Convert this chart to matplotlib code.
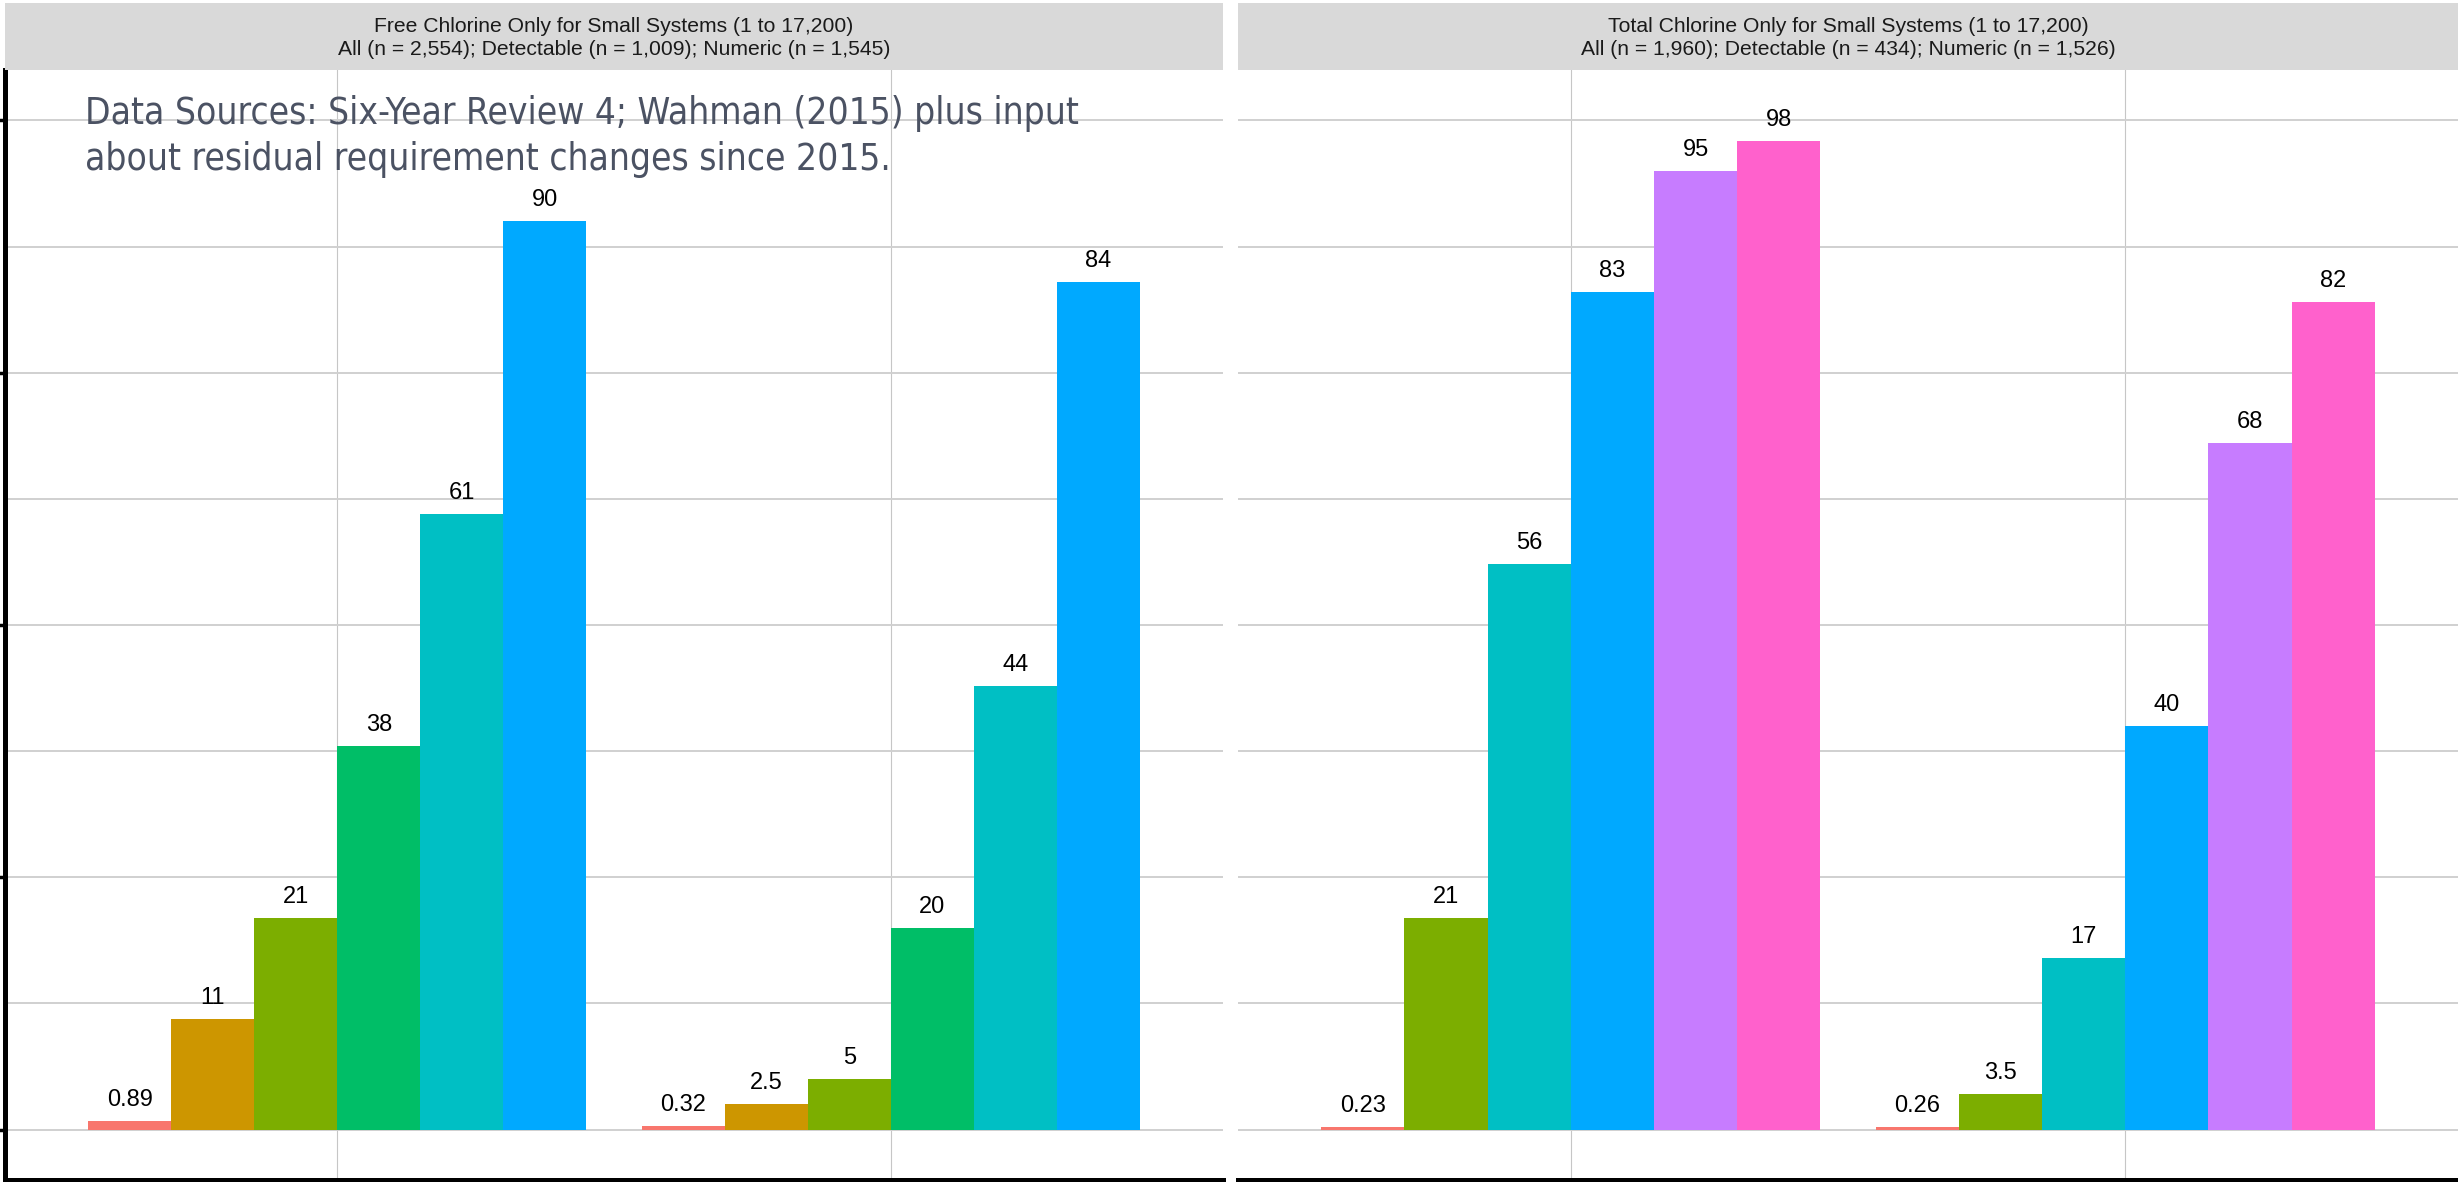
import matplotlib
matplotlib.use("Agg")
import matplotlib.pyplot as plt
from matplotlib.patches import Rectangle
import numpy as np

# ---- data -------------------------------------------------------------
hue_palette = ["#F8766D", "#CD9600", "#7CAE00", "#00BE67",
               "#00BFC4", "#00A9FF", "#C77CFF", "#FF61CC"]

group_positions = [1, 2]

free_title = ["Free Chlorine Only for Small Systems (1 to 17,200)",
              "All (n = 2,554); Detectable (n = 1,009); Numeric (n = 1,545)"]
free_color_index = [0, 1, 2, 3, 4, 5]
free_labels_group1 = ["0.89", "11", "21", "38", "61", "90"]
free_labels_group2 = ["0.32", "2.5", "5", "20", "44", "84"]

total_title = ["Total Chlorine Only for Small Systems (1 to 17,200)",
               "All (n = 1,960); Detectable (n = 434); Numeric (n = 1,526)"]
total_color_index = [0, 2, 4, 5, 6, 7]
total_labels_group1 = ["0.23", "21", "56", "83", "95", "98"]
total_labels_group2 = ["0.26", "3.5", "17", "40", "68", "82"]

source_note = ["Data Sources: Six-Year Review 4; Wahman (2015) plus input",
               "about residual requirement changes since 2015."]

# ---- figure -----------------------------------------------------------
W, H, DPI = 2458, 1182, 100
fig = plt.figure(figsize=(W / DPI, H / DPI), dpi=DPI, facecolor="white")
PT = 72.0 / DPI  # points per pixel


def px_axes(x0, y0, x1, y1, **kw):
    """Axes given by pixel box (top-left origin)."""
    return fig.add_axes([x0 / W, 1 - y1 / H, (x1 - x0) / W, (y1 - y0) / H], **kw)


def fit_width(text, target_px):
    r = fig.canvas.get_renderer()
    w = text.get_window_extent(r).width
    text.set_fontsize(text.get_fontsize() * target_px / w)
    return text.get_fontsize()


PANEL_TOP, PANEL_BOTTOM = 70, 1180
STRIP_TOP, STRIP_BOTTOM = 3.5, 69.5
panels = [
    dict(x0=5, x1=1223, title=free_title, colors=free_color_index,
         groups=[free_labels_group1, free_labels_group2], left_axis=True),
    dict(x0=1238, x1=2458, title=total_title, colors=total_color_index,
         groups=[total_labels_group1, total_labels_group2], left_axis=False),
]

bar_w = 0.15
label_font = ["Liberation Sans", "DejaVu Sans"]

for p in panels:
    ax = px_axes(p["x0"], PANEL_TOP, p["x1"], PANEL_BOTTOM)
    ax.set_xlim(0.4, 2.6)
    ax.set_ylim(-5, 105)
    ax.set_facecolor("white")

    for gpos, labels in zip(group_positions, p["groups"]):
        n = len(labels)
        for j, (lab, ci) in enumerate(zip(labels, p["colors"])):
            val = float(lab)
            xc = gpos + (j - (n - 1) / 2) * bar_w
            ax.bar(xc, val, width=bar_w, color=hue_palette[ci],
                   linewidth=0, zorder=3)
            ax.annotate(lab, (xc, val), xytext=(0, 15 * PT),
                        textcoords="offset points", ha="center",
                        va="baseline", fontsize=17, family=label_font,
                        color="black", zorder=4)

    # grid
    ax.set_yticks(np.arange(0, 101, 25))
    ax.set_yticks(np.arange(12.5, 100, 25), minor=True)
    ax.set_xticks(group_positions)
    ax.set_xticklabels([])
    ax.set_yticklabels([])
    ax.grid(axis="y", which="both", color="#D0D0D0", linewidth=1.4, zorder=0)
    ax.grid(axis="x", which="major", color="#C6C6C6", linewidth=0.8, zorder=0)
    ax.set_axisbelow(True)

    for side in ["top", "right"]:
        ax.spines[side].set_visible(False)
    ax.spines["bottom"].set_color("black")
    ax.spines["bottom"].set_linewidth(3.6)
    ax.tick_params(axis="x", length=0)
    ax.tick_params(axis="y", which="minor", length=0)
    if p["left_axis"]:
        ax.spines["left"].set_color("black")
        ax.spines["left"].set_linewidth(3.6)
        ax.tick_params(axis="y", which="major", length=6, width=2.5,
                       color="black", direction="out")
    else:
        ax.spines["left"].set_visible(False)
        ax.tick_params(axis="y", which="major", length=0)

    # facet strip
    sx = (p["x0"] + p["x1"]) / 2
    fig.add_artist(Rectangle((p["x0"] / W, 1 - STRIP_BOTTOM / H),
                             (p["x1"] - p["x0"]) / W,
                             (STRIP_BOTTOM - STRIP_TOP) / H,
                             transform=fig.transFigure, facecolor="#D9D9D9",
                             edgecolor="none", zorder=1))
    t1 = fig.text(sx / W, 1 - 31.7 / H, p["title"][0], ha="center",
                  va="baseline", family=label_font, fontsize=12.4,
                  color="#1A1A1A", zorder=2)
    t2 = fig.text(sx / W, 1 - 55 / H, p["title"][1], ha="center",
                  va="baseline", family=label_font, fontsize=12.4,
                  color="#1A1A1A", zorder=2)
    if p["left_axis"]:
        size = fit_width(t2, 556)
        t1.set_fontsize(size)
        strip_size = size
    else:
        t1.set_fontsize(strip_size)
        t2.set_fontsize(strip_size)

# source note over the left panel
note_kw = dict(ha="left", va="baseline", color="#4B5263",
               family=["DejaVu Sans"], fontstretch="condensed", fontsize=24,
               zorder=10)
n1 = fig.text(85 / W, 1 - 124 / H, source_note[0], **note_kw)
n2 = fig.text(85 / W, 1 - 170 / H, source_note[1], **note_kw)
s = fit_width(n1, 995)
n2.set_fontsize(s)

fig.savefig("out.png", dpi=DPI, facecolor="white")
